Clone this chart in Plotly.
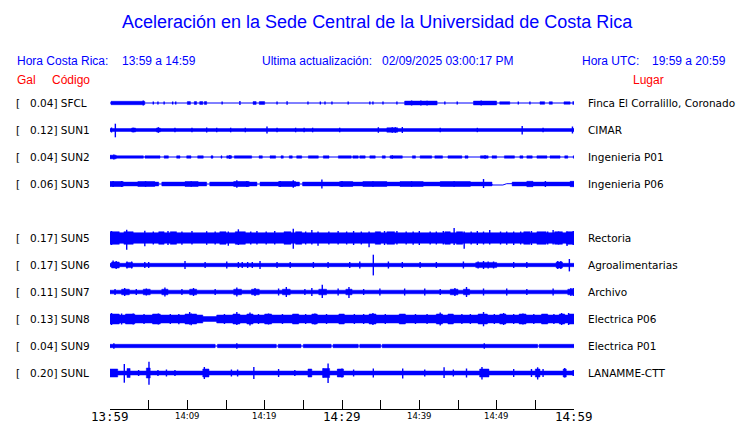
import plotly.graph_objects as go

# ---------------- data ----------------
stations = ["SFCL", "SUN1", "SUN2", "SUN3", "SUN5", "SUN6", "SUN7", "SUN8", "SUN9", "SUNL"]
gal = [0.04, 0.12, 0.04, 0.06, 0.17, 0.17, 0.11, 0.13, 0.04, 0.20]
places = ["Finca El Corralillo, Coronado", "CIMAR", "Ingenieria P01", "Ingenieria P06",
          "Rectoria", "Agroalimentarias", "Archivo", "Electrica P06", "Electrica P01", "LANAMME-CTT"]
rows = [0, 1, 2, 3, 5, 6, 7, 8, 9, 10]

# minutes after 13:59 ; amplitudes are trace half-heights (px)
base_amp = [0.0, 1.5, 1.2, 1.9, 5.3, 1.7, 1.8, 4.0, 1.7, 2.0]

# intervals where the band differs from base (t0, t1, half-height; 0 = thin line)
quiet = {
    "SUN2": [(4.31, 4.53, 0), (6.47, 7.0, 0), (7.55, 8.62, 0), (9.05, 9.92, 0), (10.47, 11.34, 0),
             (12.06, 13.06, 0), (13.32, 14.35, 0), (14.48, 15.09, 0), (15.74, 16.08, 0),
             (18.32, 19.27, 0), (19.70, 20.69, 0), (21.42, 22.11, 0), (22.41, 23.18, 0),
             (23.57, 24.14, 0), (24.79, 25.65, 0), (26.94, 27.58, 0), (28.32, 29.53, 0),
             (31.2, 31.4, 0), (32.1, 32.3, 0), (33.0, 33.6, 0), (34.3, 35.2, 0), (35.6, 36.2, 0),
             (37.8, 39.1, 0), (39.5, 40.1, 0), (41.6, 42.0, 0), (43.0, 43.7, 0), (45.5, 45.9, 0),
             (46.3, 47.9, 0), (48.9, 49.4, 0), (50.0, 51.0, 0), (52.3, 53.0, 0), (53.4, 53.9, 0),
             (54.6, 55.2, 0), (56.5, 56.9, 0), (58.2, 58.8, 0), (59.2, 59.9, 0)],
    "SUN3": [(6.3, 6.7, 0), (12.5, 12.9, 0), (19.0, 19.4, 0), (24.5, 24.9, 0), (49.4, 52.0, 0)],
    "SUN8": [(12.0, 13.8, 2.5)],
    "SUN9": [(13.6, 13.9, 0), (21.5, 21.75, 0), (24.7, 25.0, 0), (28.6, 28.85, 0),
             (32.1, 32.3, 0), (35.0, 35.2, 0), (55.3, 55.5, 0)],
}

# louder stretches (t0, t1, half-height)
bursts = {
    "SFCL": [(0.13, 4.5, 1.7), (10.0, 10.4, 1.4), (10.9, 11.2, 1.4), (11.6, 12.0, 1.4), (12.2, 12.5, 1.4),
             (18.5, 18.9, 1.4), (19.3, 20.0, 1.4), (38.1, 42.3, 1.9), (47.0, 50.0, 1.9),
             (50.4, 51.7, 1.3), (55.6, 56.2, 1.3), (56.8, 57.2, 1.3), (58.7, 59.5, 1.2)],
    "SUN1": [(2.8, 3.3, 2.0), (6.0, 6.5, 2.0), (35.8, 37.2, 2.2)],
    "SUN2": [(0.0, 0.8, 1.8)],
    "SUN3": [(0.0, 1.7, 2.5), (3.6, 5.8, 2.4), (9.7, 11.4, 2.4), (16.0, 18.0, 2.5), (21.8, 24.0, 2.5),
             (29.7, 31.4, 2.4), (32.7, 35.8, 2.4), (37.5, 40.5, 2.4), (42.7, 46.6, 2.4),
             (53.9, 54.7, 2.7), (59.5, 60.0, 2.7)],
    "SUN5": [(0.0, 1.2, 6.3), (1.8, 3.0, 6.3), (6.3, 7.0, 6.3), (7.8, 8.6, 6.3), (14.2, 15.0, 6.3),
             (16.2, 17.5, 6.3), (22.5, 23.4, 6.3), (24.0, 24.8, 6.3), (34.3, 35.0, 6.3),
             (35.8, 36.8, 6.3), (43.3, 44.0, 6.3), (44.8, 45.6, 6.3), (53.5, 54.3, 6.3),
             (55.2, 56.4, 6.3), (57.5, 58.5, 6.3), (59.0, 60.0, 6.3)],
    "SUN6": [(0.2, 1.2, 3.0), (2.1, 2.9, 2.6), (47.3, 50.0, 2.6), (57.7, 58.5, 3.0)],
    "SUN7": [(1.5, 2.5, 2.8), (4.3, 5.2, 2.8), (6.7, 7.5, 2.8), (10.3, 11.2, 2.8), (16.0, 17.0, 2.8),
             (18.3, 19.3, 2.8), (22.3, 23.3, 2.8), (27.0, 28.0, 2.8), (30.5, 31.3, 2.8),
             (44.0, 45.0, 2.8), (45.7, 46.5, 2.8), (59.2, 60.0, 2.8)],
    "SUN8": [(0.0, 1.2, 5.0), (2.0, 3.2, 5.0), (5.5, 6.5, 5.0), (9.7, 11.2, 5.0), (15.9, 16.8, 5.0),
             (17.7, 18.5, 5.0), (20.0, 20.9, 5.0), (23.6, 24.4, 5.0), (26.1, 26.8, 5.0),
             (29.6, 30.3, 5.0), (33.5, 34.4, 5.0), (37.4, 38.2, 5.0), (42.2, 43.0, 5.0),
             (43.7, 44.4, 5.0), (47.6, 48.8, 5.0), (50.4, 51.2, 5.0), (52.9, 53.8, 5.0),
             (55.8, 56.6, 5.0), (58.1, 58.8, 5.0), (59.3, 60.0, 5.0)],
    "SUNL": [(0.0, 1.0, 4.0), (2.2, 2.6, 4.5), (4.7, 5.2, 5.0), (12.0, 12.8, 4.0), (25.6, 26.1, 4.0),
             (27.5, 28.4, 4.5), (29.4, 30.2, 4.0), (47.8, 49.0, 4.0), (55.0, 55.6, 4.0),
             (58.6, 59.0, 4.0)],
}

# single peaks (t, up, down)
spikes = {
    "SFCL": [(4.3, 2.5, 2.5), (5.6, 1.5, 1.5), (6.2, 1.5, 1.5), (7.0, 1.5, 1.5), (8.1, 1.5, 1.5),
             (8.5, 1.5, 1.5), (14.5, 1.5, 1.5), (16.8, 2.0, 2.0), (21.6, 1.5, 1.5), (22.9, 1.8, 1.8),
             (25.6, 1.5, 1.5), (27.2, 1.5, 1.5), (27.8, 1.5, 1.5), (28.7, 1.5, 1.5), (30.8, 1.5, 1.5),
             (33.6, 1.5, 1.5), (34.0, 1.5, 1.5), (35.3, 1.5, 1.5), (37.1, 1.5, 1.5), (39.0, 2.5, 2.5),
             (40.2, 2.5, 2.5), (41.0, 2.3, 2.6), (43.3, 1.5, 1.5), (44.9, 1.5, 1.5), (48.0, 2.4, 2.4),
             (52.8, 1.5, 1.5), (54.3, 1.5, 1.5), (59.9, 1.8, 1.8)],
    "SUN1": [(0.69, 6.3, 7.3), (0.2, 2.5, 2.5), (3.0, 2.3, 2.3), (6.25, 2.8, 2.8), (8.4, 2.3, 2.3),
             (10.6, 2.3, 2.3), (12.5, 2.5, 2.5), (13.8, 2.3, 2.3), (15.6, 2.3, 2.3), (17.5, 2.3, 2.3),
             (20.3, 3.5, 3.5), (21.6, 2.3, 2.3), (24.0, 2.3, 2.3), (25.1, 2.3, 2.3), (26.2, 2.3, 2.3),
             (29.7, 2.3, 2.3), (34.7, 2.8, 2.8), (36.5, 2.8, 2.8), (36.9, 2.8, 2.8), (37.8, 3.0, 3.0),
             (42.7, 2.2, 2.2), (47.5, 2.2, 2.2), (53.3, 4.0, 4.5), (56.0, 2.2, 2.2), (59.8, 3.5, 3.5)],
    "SUN2": [(0.5, 2.5, 2.5), (15.5, 2.0, 2.0), (36.5, 1.8, 1.8), (48.5, 1.8, 1.8)],
    "SUN3": [(0.4, 3.0, 3.0), (1.5, 3.0, 3.0), (4.6, 2.8, 2.8), (10.5, 2.8, 2.8), (16.4, 3.7, 3.7),
             (17.7, 3.0, 3.0), (22.0, 3.0, 3.0), (23.7, 3.7, 3.7), (27.4, 4.5, 4.5), (30.0, 3.0, 3.0),
             (34.0, 2.8, 2.8), (39.0, 2.8, 2.8), (44.5, 2.8, 2.8), (48.3, 5.0, 4.0), (56.3, 3.0, 3.0)],
    "SUN5": [(0.2, 7, 7), (2.16, 8.3, 11.7), (4.5, 7.3, 8.3), (5.6, 6.5, 6.5), (7.5, 7, 7),
             (9.3, 6.5, 6.8), (10.6, 7, 6.5), (12.5, 6.8, 6.8), (13.6, 6.5, 6.5), (15.3, 6.5, 7.7),
             (16.6, 8.7, 7), (18.2, 6.5, 6.5), (19.0, 7, 6.5), (20.2, 6.5, 6.5), (21.3, 7, 6.5),
             (23.7, 9.3, 10.7), (25.3, 6.5, 6.5), (26.1, 8, 6.5), (26.9, 6.5, 7.7), (28.3, 6.5, 6.5),
             (29.5, 7, 6.5), (30.6, 6.5, 6.5), (31.5, 7, 7), (32.5, 6.5, 6.5), (33.5, 6.5, 9.3),
             (35.5, 7, 7), (37.1, 7, 6.5), (38.3, 6.5, 6.5), (39.2, 6.5, 6.8), (40.0, 7, 7),
             (41.4, 6.5, 6.5), (42.2, 6.5, 6.5), (43.1, 7, 6.5), (44.5, 10, 7), (45.8, 6.5, 10.7),
             (46.7, 6.5, 6.5), (47.5, 7, 7), (48.3, 6.5, 6.5), (49.1, 8, 6.5), (50.5, 6.5, 6.5),
             (51.3, 6.5, 6.8), (52.2, 6.5, 7), (53.1, 6.5, 6.5), (54.5, 7, 7), (56.6, 6.5, 6.5),
             (57.3, 8, 6.5), (58.0, 6.5, 6.5), (59.1, 6.5, 8), (59.9, 7, 7)],
    "SUN6": [(0.4, 4.5, 3), (0.8, 4, 4), (2.2, 3.5, 3.5), (2.8, 3.5, 3.5), (4.5, 3, 3), (5.0, 3, 3),
             (9.7, 4, 4), (12.3, 3, 3), (15.1, 3.5, 3.5), (16.6, 3, 3), (17.1, 3, 3), (17.8, 3, 3),
             (18.4, 3, 3), (19.4, 4, 4), (21.6, 3, 3), (23.3, 3, 3), (26.3, 3, 3), (28.2, 3, 3),
             (31.0, 3, 3), (32.3, 3.5, 3.5), (34.05, 10.3, 10.4), (36.0, 3.5, 3.5), (37.8, 3, 3),
             (40.1, 3, 3), (42.2, 3, 3), (45.7, 3.5, 3.5), (47.6, 3.5, 3.5), (48.3, 4, 4),
             (48.9, 3.5, 3.5), (49.6, 3.5, 3.5), (52.2, 3, 3), (53.9, 3, 3), (57.9, 4, 4), (58.3, 4, 4),
             (59.4, 6, 6.4)],
    "SUN7": [(0.65, 3, 3), (1.9, 4, 4), (3.4, 3, 3), (4.7, 3.5, 3.5), (7.1, 4.5, 4.5), (9.3, 3, 3),
             (10.8, 4, 4), (13.6, 3, 3), (16.4, 4.5, 4.5), (18.75, 4, 4), (21.8, 3.5, 3.5), (22.8, 5, 5),
             (25.2, 3, 3), (26.1, 4, 4), (27.45, 7.3, 6), (29.5, 3.5, 3.5), (30.9, 5, 6), (32.8, 3, 3),
             (34.9, 3.5, 3.5), (38.1, 3.5, 3.5), (40.7, 3.5, 3.5), (42.7, 3, 3), (44.6, 4, 4),
             (46.1, 5, 5), (48.3, 3.5, 3.5), (51.3, 3.5, 3.5), (53.9, 3, 3), (57.3, 3.5, 3.5),
             (59.6, 4, 4), (59.9, 4, 4)],
    "SUN8": [(0.2, 6, 6), (1.5, 5.5, 5.5), (3.0, 5.5, 5.5), (4.4, 5, 5), (6.25, 5.5, 5.5),
             (7.8, 5, 5), (8.9, 5, 5.3), (10.3, 7, 5.5), (10.5, 5.5, 6.3), (14.8, 5, 5), (16.4, 7, 6),
             (18.1, 6.5, 6.5), (19.2, 5, 5), (20.5, 5.5, 5.5), (22.3, 5, 5), (24.1, 5, 5),
             (25.3, 5, 5), (26.5, 5.5, 5.5), (28.0, 5, 5), (30.0, 5, 5), (31.6, 5, 5), (32.8, 5, 5),
             (34.0, 6, 6), (35.6, 5, 5), (37.9, 5, 5), (39.5, 5, 5), (41.0, 5, 5), (42.7, 6.5, 6.5),
             (44.0, 5, 5), (45.5, 5, 5), (46.6, 5, 5), (48.3, 7, 7.3), (49.7, 5, 5), (50.9, 6, 6),
             (52.2, 5, 5), (53.4, 5.5, 5.5), (54.8, 5, 5), (56.3, 5, 5), (57.4, 5, 5), (58.4, 6, 6),
             (59.3, 6, 6)],
    "SUN9": [(0.5, 2.8, 2.8), (16.4, 2.7, 2.7), (48.4, 2.8, 2.8)],
    "SUNL": [(1.85, 9, 9.7), (3.7, 3, 3), (5.04, 11.3, 11.7), (6.2, 3, 3), (7.3, 3.5, 3.5), (8.4, 3, 3),
             (12.2, 6, 6), (12.7, 4, 4), (15.7, 3.5, 3.5), (16.5, 3.5, 3.5), (18.6, 6, 6), (21.8, 4, 4),
             (23.9, 3, 3), (27.6, 4.5, 4.5), (28.2, 9.5, 10), (29.5, 4, 4), (30.0, 4.5, 4.5),
             (31.5, 3.5, 3.5), (34.05, 4.5, 4.5), (37.85, 4.5, 5.5), (40.7, 3.5, 3.5), (43.2, 5.7, 5),
             (44.4, 3.5, 3.5), (46.1, 4.5, 4.5), (48.1, 6, 6.5), (48.9, 4, 4), (52.2, 4, 4),
             (54.5, 4, 4), (55.3, 5.7, 6.5), (56.0, 4, 4), (58.8, 5, 4.5), (59.9, 3, 3)],
}

# baseline drift (t, offset px) where the trace is a thin line
drift = {
    "SUN3": [(0, 0), (49.4, 0), (49.4, 1.0), (50.8, 1.0), (51.3, -0.3), (60, -0.3)],
}

tick_minutes = list(range(0, 61, 5))
big_ticks = [(0, "13:59"), (30, "14:29"), (60, "14:59")]
small_ticks = [(10, "14:09"), (20, "14:19"), (40, "14:39"), (50, "14:49")]

# ---------------- layout constants ----------------
W, H = 740, 423
PL, PR, PT, PB = 110, 574, 90, 409      # plot area in pixels
ROW0, ROW_STEP = 103, 27
BLUE = "#0000ff"
RED = "#ff0000"


def px(x):
    return (x - PL) / (PR - PL)


def py(y):
    return (PB - y) / (PB - PT)


fig = go.Figure()

for k, st in enumerate(stations):
    yc = ROW0 + ROW_STEP * rows[k]
    segs = []
    q = sorted(quiet.get(st, []))
    t = 0.0
    for (a, b, amp) in q:
        if a > t:
            segs.append((t, a, base_amp[k]))
        segs.append((a, b, amp))
        t = b
    if t < 60:
        segs.append((t, 60.0, base_amp[k]))
    segs += bursts.get(st, [])
    xs, ys = [], []
    for (a, b, amp) in segs:
        if amp <= 0:
            continue
        xs += [a, b, b, a, a, None]
        ys += [yc - amp, yc - amp, yc + amp, yc + amp, yc - amp, None]
    if xs:
        fig.add_trace(go.Scatter(x=xs, y=ys, mode="lines", fill="toself", fillcolor=BLUE,
                                 line=dict(color=BLUE, width=0.5), hoverinfo="skip",
                                 showlegend=False))
    d = drift.get(st, [(0, 0), (60, 0)])
    fig.add_trace(go.Scatter(x=[p[0] for p in d], y=[yc + p[1] for p in d], mode="lines",
                             line=dict(color=BLUE, width=1), hoverinfo="skip", showlegend=False))
    sx, sy = [], []
    for (tt, up, dn) in spikes.get(st, []):
        sx += [tt, tt, None]
        sy += [yc - up, yc + dn, None]
    if sx:
        fig.add_trace(go.Scatter(x=sx, y=sy, mode="lines", line=dict(color=BLUE, width=1.4),
                                 hoverinfo="skip", showlegend=False))

ann = []
ann.append(dict(text="Aceleración en la Sede Central de la Universidad de Costa Rica",
                x=px(377), y=py(22), xanchor="center", yanchor="middle",
                font=dict(family="Liberation Sans, Arial", size=18, color=BLUE)))
hdr = [(15, "Hora Costa Rica:", BLUE), (120, "13:59 a 14:59", BLUE),
       (260, "Ultima actualización:", BLUE), (380, "02/09/2025 03:00:17 PM", BLUE),
       (580, "Hora UTC:", BLUE), (650, "19:59 a 20:59", BLUE)]
for x0, txt, col in hdr:
    ann.append(dict(text=txt, x=px(x0), y=py(61), xanchor="left", yanchor="middle",
                    font=dict(family="Liberation Sans, Arial", size=12, color=col)))
for x0, txt in [(15, "Gal"), (50, "Código"), (631, "Lugar")]:
    ann.append(dict(text=txt, x=px(x0), y=py(80), xanchor="left", yanchor="middle",
                    font=dict(family="Liberation Sans, Arial", size=12, color=RED)))

for k, st in enumerate(stations):
    yc = ROW0 + ROW_STEP * rows[k]
    lf = dict(family="DejaVu Sans", size=10.5, color="black")
    ann.append(dict(text="[", x=px(14), y=py(yc), xanchor="left", yanchor="middle", font=lf))
    ann.append(dict(text=f"{gal[k]:.2f}] {st}", x=px(27.5), y=py(yc), xanchor="left",
                    yanchor="middle", font=lf))
    ann.append(dict(text=places[k], x=px(586), y=py(yc), xanchor="left", yanchor="middle",
                    font=lf))

for m, lab in big_ticks:
    ann.append(dict(text=lab, x=m, xref="x", y=py(416.5), yref="paper", xanchor="center",
                    yanchor="middle", font=dict(family="DejaVu Sans Mono", size=12.5, color="black")))
for m, lab in small_ticks:
    ann.append(dict(text=lab, x=m, xref="x", y=py(416), yref="paper", xanchor="center",
                    yanchor="middle", font=dict(family="DejaVu Sans", size=8.5, color="black")))

for a in ann:
    a.setdefault("xref", "paper")
    a.setdefault("yref", "paper")
    a["showarrow"] = False

fig.update_layout(
    width=W, height=H,
    margin=dict(l=PL, r=W - PR, t=PT, b=H - PB, pad=0),
    paper_bgcolor="white", plot_bgcolor="white",
    xaxis=dict(range=[0, 60], showgrid=False, zeroline=False, showline=True, linecolor="black",
               linewidth=1, ticks="inside", ticklen=9, tickcolor="black", tickwidth=1,
               tickvals=tick_minutes, showticklabels=False, fixedrange=True),
    yaxis=dict(range=[PB, PT], visible=False, fixedrange=True),
    annotations=ann,
    showlegend=False,
)

fig.write_html("out.html", config={"displayModeBar": False},
               post_script="document.body.style.margin='0';document.body.style.padding='0';")
